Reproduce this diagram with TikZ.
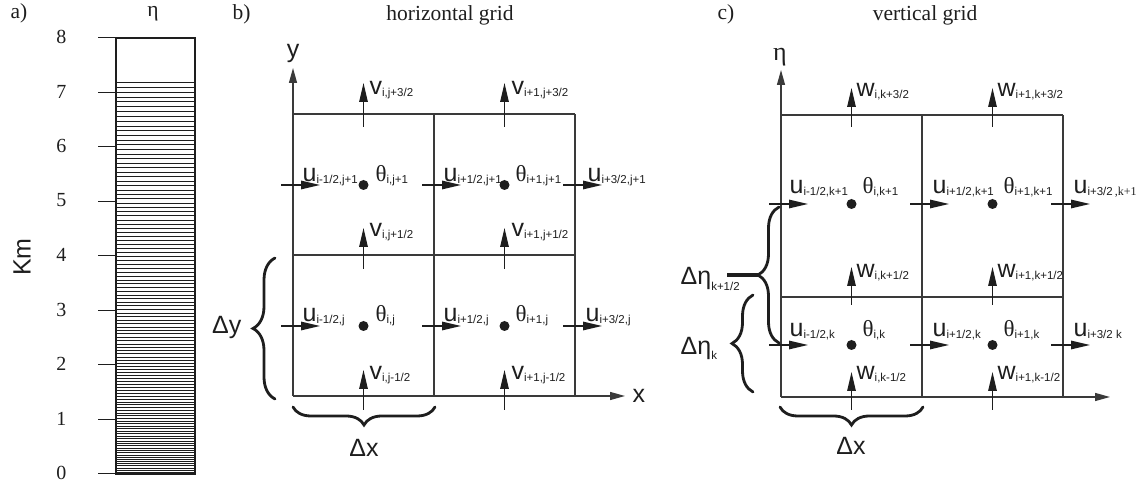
\documentclass[tikz,border=0pt]{standalone}
\usepackage{fontspec}
\setmainfont{Liberation Serif}
\setsansfont{Liberation Sans}
\usetikzlibrary{arrows.meta, decorations.pathreplacing}
\definecolor{cgrid}{HTML}{3A3A3A}
\definecolor{cink}{HTML}{1E1E1E}
\newcommand\bigsf{\sffamily\fontsize{25}{25}\selectfont}
\newcommand\subsf{\sffamily\fontsize{11.5}{11.5}\selectfont}
\newcommand\thfont{\rmfamily\fontsize{23}{23}\selectfont}
\newcommand\varlab[2]{{\bigsf #1}\raisebox{-2pt}{\subsf #2}}
\newcommand\thlab[1]{{\thfont θ}\raisebox{-2pt}{\subsf #1}}
\tikzset{
  every picture/.style={x=1pt, y=1pt, line width=1.3pt, color=cink},
  cell/.style={draw=cgrid, line width=1.3pt},
  axisarrow/.style={-{Triangle[length=15pt, width=8pt]}, draw=cgrid, line width=1.3pt},
  flux/.style={-{Triangle[length=19pt, width=8.5pt]}, line width=1.3pt},
  lab/.style={anchor=base west, inner sep=0pt},
  curly/.style={decorate, decoration={brace, amplitude=#1, aspect=0.5}, line width=2.8pt, line cap=round},
  curly/.default=20pt,
  title/.style={font=\rmfamily\fontsize{21.5}{21.5}\selectfont, anchor=base, inner sep=0pt},
  ticklab/.style={font=\rmfamily\fontsize{20}{20}\selectfont, anchor=east, inner sep=0pt},
}

\begin{document}
\begin{tikzpicture}
  \useasboundingbox (0,0) rectangle (1137,486);
  % a) model levels
  \node[title, anchor=base west] (pa) at (10,467) {a)};
  \node[title] (etaa) at (153,469) {η};
  \node[rotate=90, font=\bigsf] (km) at (22,229) {Km};
  \foreach \k in {1,...,112}
    \draw[line width=0.6pt] (116,{12+2*\k+0.0134*\k*\k}) -- (195,{12+2*\k+0.0134*\k*\k});
  \draw[line width=1.3pt] (116,12) rectangle (195,448);
  \foreach \z in {0,...,8} {
    \draw[line width=1pt] (98,12+54.5*\z) -- (116,12+54.5*\z);
    \node[ticklab] (t\z) at (67,13+54.5*\z) {\z};
  }

  % b) horizontal grid
  \node[title, anchor=base west] (pb) at (232,466) {b)};
  \node[title] (tb) at (450,465) {horizontal grid};
  \begin{scope}[shift={(293,90)}]
    \foreach \g in {0,141,282} {
      \draw[cell] (\g,0) -- (\g,282);
      \draw[cell] (0,\g) -- (282,\g);
    }
    \draw[axisarrow] (0,0) -- (0,328);
    \draw[axisarrow] (0,0) -- (332,0);
    \node[lab, anchor=base, font=\bigsf] (ylab) at (0,338) {y};
    \node[lab, font=\bigsf] (xlab) at (339,-7) {x};
    \foreach \cx in {70.5,211.5}
      \foreach \cy in {70,211}
        \fill (\cx,\cy) circle[radius=5pt];
    \foreach \ex in {0,141,282}
      \foreach \ry in {70,211}
        \draw[flux] (\ex-12,\ry) -- (\ex+27,\ry);
    \foreach \ey/\lo/\hi in {0/14/26, 141/14/27, 282/13/31}
      \foreach \cx in {70.5,211.5}
        \draw[flux] (\cx,\ey-\lo) -- (\cx,\ey+\hi);
    \node[lab] (bu1) at (9,214) {\varlab{u}{i-1/2,j+1}};
    \node[lab] (bt1) at (82,214) {\thlab{i,j+1}};
    \node[lab] (bu2) at (150,214) {\varlab{u}{i+1/2,j+1}};
    \node[lab] (bt2) at (222,214) {\thlab{i+1,j+1}};
    \node[lab] (bu3) at (294,214) {\varlab{u}{i+3/2,j+1}};
    \node[lab] (bu4) at (9,74) {\varlab{u}{i-1/2,j}};
    \node[lab] (bt3) at (82,74) {\thlab{i,j}};
    \node[lab] (bu5) at (150,74) {\varlab{u}{i+1/2,j}};
    \node[lab] (bt4) at (222,74) {\thlab{i+1,j}};
    \node[lab] (bu6) at (292,74) {\varlab{u}{i+3/2,j}};
    \node[lab] (bv1) at (76,301) {\varlab{v}{i,j+3/2}};
    \node[lab] (bv2) at (218,301) {\varlab{v}{i+1,j+3/2}};
    \node[lab] (bv3) at (76,159) {\varlab{v}{i,j+1/2}};
    \node[lab] (bv4) at (218,159) {\varlab{v}{i+1,j+1/2}};
    \node[lab] (bv5) at (76,16) {\varlab{v}{i,j-1/2}};
    \node[lab] (bv6) at (218,16) {\varlab{v}{i+1,j-1/2}};
    \draw[curly=22pt] (-18,-3) -- (-18,138);
    \node[lab, anchor=base east, font=\bigsf] (dy) at (-51,62) {Δy};
    \draw[curly=18pt] (142,-11) -- (0,-11);
    \node[lab, anchor=base, font=\bigsf] (bdx) at (71,-61) {Δx};
  \end{scope}

  % c) vertical grid
  \node[title, anchor=base west] (pc) at (717,466) {c)};
  \node[title] (tc) at (925,465) {vertical grid};
  \begin{scope}[shift={(781,89)}]
    \foreach \g in {0,141,282}
      \draw[cell] (\g,0) -- (\g,282);
    \foreach \g in {0,100,282}
      \draw[cell] (0,\g) -- (282,\g);
    \draw[axisarrow] (0,0) -- (0,327);
    \draw[axisarrow] (0,0) -- (329,0);
    \node[lab, anchor=base, font=\rmfamily\fontsize{26}{26}\selectfont] (etac) at (-1,336) {η};
    \foreach \cx in {70.5,211.5}
      \foreach \cy in {52,193}
        \fill (\cx,\cy) circle[radius=5pt];
    \foreach \ex in {0,141,282}
      \foreach \ry in {52,193}
        \draw[flux] (\ex-12,\ry) -- (\ex+27,\ry);
    \foreach \ey/\lo/\hi in {0/13/25, 100/8/30, 282/12/27}
      \foreach \cx in {70.5,211.5}
        \draw[flux] (\cx,\ey-\lo) -- (\cx,\ey+\hi);
    \node[lab] (cu1) at (8,203) {\varlab{u}{i-1/2,k+1}};
    \node[lab] (ct1) at (81,203) {\thlab{i,k+1}};
    \node[lab] (cu2) at (151,203) {\varlab{u}{i+1/2,k+1}};
    \node[lab] (ct2) at (222,203) {\thlab{i+1,k+1}};
    \node[lab] (cu3) at (292,203) {{\bigsf u}\raisebox{-2pt}{\subsf i+3/2}\raisebox{-2pt}{\rmfamily\fontsize{12}{12}\selectfont\,,k+1}};
    \node[lab] (cu4) at (8,60) {\varlab{u}{i-1/2,k}};
    \node[lab] (ct3) at (81,60) {\thlab{i,k}};
    \node[lab] (cu5) at (151,60) {\varlab{u}{i+1/2,k}};
    \node[lab] (ct4) at (222,60) {\thlab{i+1,k}};
    \node[lab] (cu6) at (292,60) {\varlab{u}{i+3/2 k}};
    \node[lab] (cw1) at (75,300) {\varlab{w}{i,k+3/2}};
    \node[lab] (cw2) at (216,300) {\varlab{w}{i+1,k+3/2}};
    \node[lab] (cw3) at (75,119) {\varlab{w}{i,k+1/2}};
    \node[lab] (cw4) at (216,119) {\varlab{w}{i+1,k+1/2}};
    \node[lab] (cw5) at (75,17) {\varlab{w}{i,k-1/2}};
    \node[lab] (cw6) at (216,17) {\varlab{w}{i+1,k-1/2}};
    \draw[curly=21pt] (-28,5) -- (-28,102);
    \node[lab, font=\bigsf] (dek) at (-101,42) {Δη\raisebox{-5pt}{\subsf k}};
    \draw[curly=21pt] (-2,54) -- (-2,190);
    \coordinate (tip) at (-23,122);
    \draw[line width=4pt] (tip) -- ++(-31,0);
    \node[lab, font=\bigsf] (deh) at (-101,112) {Δη\raisebox{-6pt}{\subsf k+1/2}};
    \draw[curly=18pt] (142,-10) -- (-1,-10);
    \node[lab, anchor=base, font=\bigsf] (cdx) at (70,-58) {Δx};
  \end{scope}
\end{tikzpicture}
\end{document}
